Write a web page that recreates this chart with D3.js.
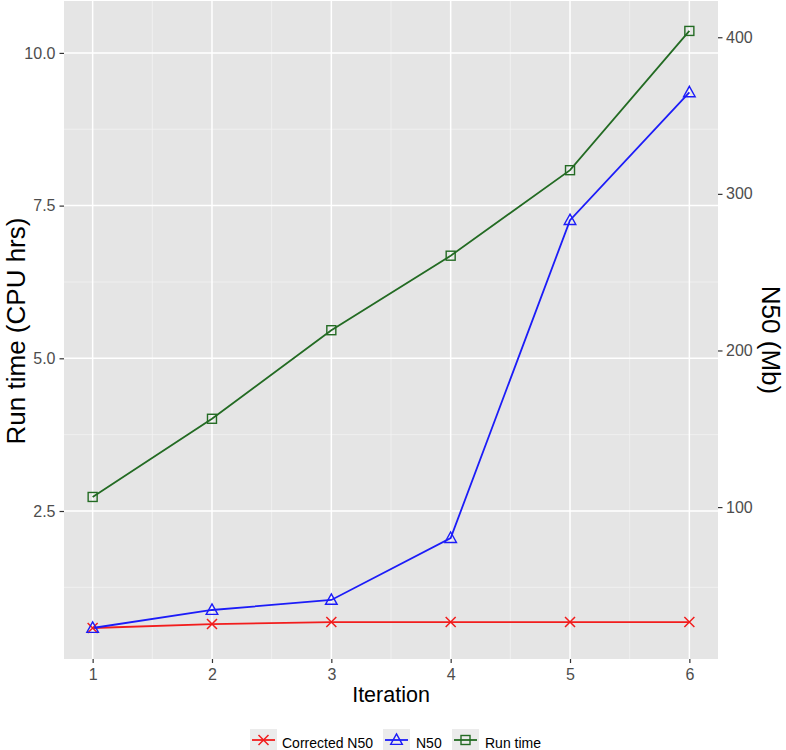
<!DOCTYPE html>
<html><head><meta charset="utf-8">
<script src="https://cdn.jsdelivr.net/npm/d3@7"></script>
<style>body{margin:0;background:#fff}text{font-family:"Liberation Sans",Arial,sans-serif}</style>
</head><body><svg id="c" width="786" height="750"></svg>
<script>
const iterations = [1, 2, 3, 4, 5, 6];
const runTime = [2.73, 4.01, 5.46, 6.68, 8.08, 10.36];      // CPU hrs (left axis)
const n50 = [22.8, 34.3, 40.7, 80.2, 283.2, 364.8];         // Mb (right axis)
const correctedN50 = [22.8, 25.3, 26.6, 26.6, 26.6, 26.6];  // Mb (right axis)
const leftTicks = [2.5, 5.0, 7.5, 10.0];
const rightTicks = [100, 200, 300, 400];
const seriesNames = ["Corrected N50", "N50", "Run time"];
const colors = {"Corrected N50": "#f21d1d", "N50": "#1c1cf8", "Run time": "#236b23"};
const secFactor = 39;

const svg = d3.select("#c");
const P = {l: 64, r: 718, t: 1, b: 659};

const x = d3.scaleLinear().domain([0.76, 6.24]).range([P.l, P.r]);
const yL = d3.scaleLinear().domain([0.077, 10.85]).range([P.b, P.t]);
const yR = d3.scaleLinear().domain([0.077 * secFactor, 10.85 * secFactor]).range([P.b, P.t]);

svg.append("rect").attr("x", P.l).attr("y", P.t).attr("width", P.r - P.l).attr("height", P.b - P.t).attr("fill", "#e5e5e5");

const g = svg.append("g");
[1.25, 3.75, 6.25, 8.75].forEach(v => g.append("line").attr("x1", P.l).attr("x2", P.r).attr("y1", yL(v)).attr("y2", yL(v)).attr("stroke", "#f3f3f3").attr("stroke-width", 0.8));
[1.5, 2.5, 3.5, 4.5, 5.5].forEach(v => g.append("line").attr("y1", P.t).attr("y2", P.b).attr("x1", x(v)).attr("x2", x(v)).attr("stroke", "#f3f3f3").attr("stroke-width", 0.8));
leftTicks.forEach(v => g.append("line").attr("x1", P.l).attr("x2", P.r).attr("y1", yL(v)).attr("y2", yL(v)).attr("stroke", "#fff").attr("stroke-width", 1.5));
iterations.forEach(v => g.append("line").attr("y1", P.t).attr("y2", P.b).attr("x1", x(v)).attr("x2", x(v)).attr("stroke", "#fff").attr("stroke-width", 1.5));

function styleAxis(sel) {
  sel.select(".domain").remove();
  sel.selectAll(".tick line").attr("stroke", "#333").attr("stroke-width", 1.2);
  sel.selectAll(".tick text").attr("fill", "#4d4d4d").attr("font-size", 16);
}
svg.append("g").attr("transform", `translate(${P.l},0)`)
  .call(d3.axisLeft(yL).tickValues(leftTicks).tickFormat(d3.format(".1f")).tickSize(4.5).tickPadding(4))
  .call(styleAxis);
svg.append("g").attr("transform", `translate(${P.r},0)`)
  .call(d3.axisRight(yR).tickValues(rightTicks).tickFormat(d3.format("d")).tickSize(4.5).tickPadding(3.5))
  .call(styleAxis);
svg.append("g").attr("transform", `translate(0,${P.b})`)
  .call(d3.axisBottom(x).tickValues(iterations).tickFormat(d3.format("d")).tickSize(4).tickPadding(6))
  .call(styleAxis);

svg.append("text").attr("x", (P.l + P.r) / 2).attr("y", 702).attr("text-anchor", "middle").attr("font-size", 21.5).attr("fill", "#000").text("Iteration");
svg.append("text").attr("transform", `translate(25,${(P.t + P.b) / 2 + 1}) rotate(-90)`).attr("text-anchor", "middle").attr("font-size", 26).text("Run time (CPU hrs)");
svg.append("text").attr("transform", `translate(762,340) rotate(90)`).attr("text-anchor", "middle").attr("font-size", 26).text("N50 (Mb)");

const series = [
  {name: "Corrected N50", vals: correctedN50, y: yR, shape: "x"},
  {name: "N50", vals: n50, y: yR, shape: "tri"},
  {name: "Run time", vals: runTime, y: yL, shape: "sq"}
];
function marker(sel, shape, cx, cy, col) {
  if (shape === "x") {
    const s = 5;
    sel.append("path").attr("d", `M${cx - s},${cy - s}L${cx + s},${cy + s}M${cx - s},${cy + s}L${cx + s},${cy - s}`).attr("stroke", col).attr("stroke-width", 1.5).attr("fill", "none");
  } else if (shape === "tri") {
    const s = 5.8;
    sel.append("path").attr("d", `M${cx},${cy - s * 1.05}L${cx + s},${cy + s * 0.75}L${cx - s},${cy + s * 0.75}Z`).attr("stroke", col).attr("stroke-width", 1.4).attr("fill", "none");
  } else {
    const s = 4.5;
    sel.append("rect").attr("x", cx - s).attr("y", cy - s).attr("width", 2 * s).attr("height", 2 * s).attr("stroke", col).attr("stroke-width", 1.4).attr("fill", "none");
  }
}
series.forEach(s => {
  const col = colors[s.name];
  const line = d3.line().x((d, i) => x(iterations[i])).y(d => s.y(d));
  svg.append("path").attr("d", line(s.vals)).attr("fill", "none").attr("stroke", col).attr("stroke-width", 1.8);
});
series.forEach(s => {
  const col = colors[s.name];
  const mg = svg.append("g");
  s.vals.forEach((v, i) => marker(mg, s.shape, x(iterations[i]), s.y(v), col));
});

const legY = 740;
const legItems = [{name: "Corrected N50", shape: "x", kx: 250, tx: 282}, {name: "N50", shape: "tri", kx: 383, tx: 416}, {name: "Run time", shape: "sq", kx: 452, tx: 485}];
const lg = svg.append("g");
legItems.forEach(it => {
  const col = colors[it.name];
  lg.append("rect").attr("x", it.kx).attr("y", legY - 11).attr("width", 27).attr("height", 22).attr("fill", "#ebebeb");
  lg.append("line").attr("x1", it.kx + 2).attr("x2", it.kx + 25).attr("y1", legY).attr("y2", legY).attr("stroke", col).attr("stroke-width", 1.8);
  marker(lg, it.shape, it.kx + 13.5, legY, col);
  lg.append("text").attr("x", it.tx).attr("y", legY + 7.5).attr("font-size", 14).attr("fill", "#000").text(it.name);
});
</script></body></html>
